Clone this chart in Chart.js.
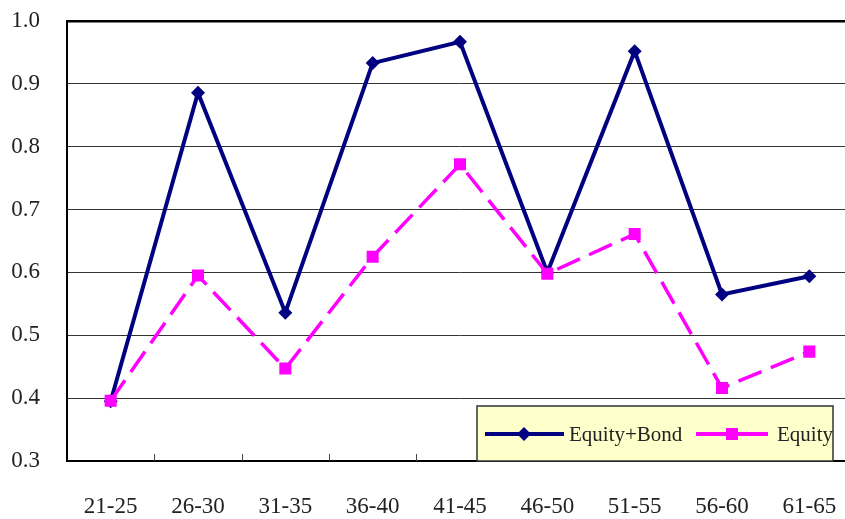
<!DOCTYPE html>
<html>
<head>
<meta charset="utf-8">
<script src="https://cdn.jsdelivr.net/npm/chart.js@4.4.1/dist/chart.umd.min.js"></script>
<style>
  html, body { margin: 0; padding: 0; overflow: hidden; background: #fff; }
  canvas { display: block; }
</style>
</head>
<body>
<canvas id="lineChart" width="862" height="519"></canvas>
<script>
var ageGroups = ["21-25", "26-30", "31-35", "36-40", "41-45", "46-50", "51-55", "56-60", "61-65"];
var equityBond = [0.395, 0.886, 0.536, 0.933, 0.967, 0.600, 0.952, 0.565, 0.594];
var equityOnly = [0.396, 0.595, 0.447, 0.625, 0.772, 0.598, 0.661, 0.416, 0.474];
var yTicks = [0.3, 0.4, 0.5, 0.6, 0.7, 0.8, 0.9, 1.0];

var fontFam = "'Liberation Serif', 'Times New Roman', serif";

// small inner tick marks on the x axis + yellow legend box in the corner
var extras = {
    id: 'extras',
    afterDraw: function(chart) {
        var ctx = chart.ctx;
        var xs = chart.scales.x;
        var area = chart.chartArea;
        ctx.save();
        ctx.strokeStyle = '#444';
        ctx.lineWidth = 1;
        for (var i = 1; i < ageGroups.length; i++) {
            var px = Math.round((xs.getPixelForTick(i - 1) + xs.getPixelForTick(i)) / 2) + 0.5;
            ctx.beginPath();
            ctx.moveTo(px, area.bottom);
            ctx.lineTo(px, area.bottom - 7);
            ctx.stroke();
        }

        // legend box
        var bx = 477, by = 406, bw = 356, bh = area.bottom - 406;
        ctx.fillStyle = '#FFFFCC';
        ctx.fillRect(bx, by, bw, bh);
        ctx.strokeStyle = '#333';
        ctx.lineWidth = 1.5;
        ctx.strokeRect(bx, by, bw, bh);

        var ly = 434;
        var ds = chart.data.datasets;
        // Equity+Bond
        ctx.strokeStyle = ds[0].borderColor;
        ctx.lineWidth = 4;
        ctx.setLineDash([]);
        ctx.beginPath(); ctx.moveTo(485, ly); ctx.lineTo(564, ly); ctx.stroke();
        ctx.fillStyle = ds[0].borderColor;
        ctx.beginPath();
        ctx.moveTo(524, ly - 7); ctx.lineTo(531, ly); ctx.lineTo(524, ly + 7); ctx.lineTo(517, ly);
        ctx.closePath(); ctx.fill();
        // Equity
        ctx.strokeStyle = ds[1].borderColor;
        ctx.lineWidth = 4;
        ctx.beginPath(); ctx.moveTo(696, ly); ctx.lineTo(726, ly); ctx.stroke();
        ctx.beginPath(); ctx.moveTo(738, ly); ctx.lineTo(768, ly); ctx.stroke();
        ctx.fillStyle = ds[1].borderColor;
        ctx.fillRect(726, ly - 6, 12, 12);

        ctx.fillStyle = '#222';
        ctx.font = "21px " + fontFam;
        ctx.textBaseline = 'middle';
        ctx.textAlign = 'left';
        ctx.fillText(ds[0].label, 569, ly + 1);
        ctx.fillText(ds[1].label, 777, ly + 1);
        ctx.restore();
    }
};

new Chart(document.getElementById('lineChart'), {
    type: 'line',
    data: {
        labels: ageGroups,
        datasets: [
            {
                label: "Equity+Bond",
                data: equityBond,
                borderColor: '#000080',
                backgroundColor: '#000080',
                borderWidth: 4,
                pointStyle: 'rectRot',
                pointRadius: 7,
                pointBorderWidth: 0,
                tension: 0,
                order: 2
            },
            {
                label: "Equity",
                data: equityOnly,
                borderColor: '#FF00FF',
                backgroundColor: '#FF00FF',
                borderWidth: 3.5,
                borderDash: [25, 10],
                pointStyle: 'rect',
                pointRadius: 8.5,
                pointBorderWidth: 0,
                tension: 0,
                order: 1
            }
        ]
    },
    options: {
        responsive: false,
        animation: false,
        layout: { padding: { top: 21, right: 9, bottom: 0, left: 0 } },
        plugins: {
            legend: { display: false },
            tooltip: { enabled: false }
        },
        scales: {
            x: {
                offset: true,
                grid: { display: false, drawTicks: false },
                border: { display: true, color: '#000', width: 2 },
                ticks: {
                    color: '#222',
                    font: { family: fontFam, size: 23 },
                    padding: 32,
                    maxRotation: 0,
                    autoSkip: false
                },
                afterFit: function(s) {
                    s.height = 58;
                    s.paddingLeft = 0;
                    s.paddingRight = 0;
                }
            },
            y: {
                min: 0.3,
                max: 1.0,
                afterBuildTicks: function(s) {
                    s.ticks = yTicks.map(function(v) { return { value: v }; });
                },
                grid: {
                    drawTicks: false,
                    color: function(c) { return c.tick && c.tick.value >= 0.999 ? '#000' : '#333'; },
                    lineWidth: function(c) { return c.tick && c.tick.value >= 0.999 ? 2.5 : 1; }
                },
                border: { display: true, color: '#000', width: 2 },
                ticks: {
                    color: '#222',
                    font: { family: fontFam, size: 23 },
                    padding: 27,
                    callback: function(v) { return Number(v).toFixed(1); }
                },
                afterFit: function(s) {
                    s.width = 67;
                    s.paddingTop = 0;
                    s.paddingBottom = 0;
                }
            }
        }
    },
    plugins: [extras]
});
</script>
</body>
</html>
